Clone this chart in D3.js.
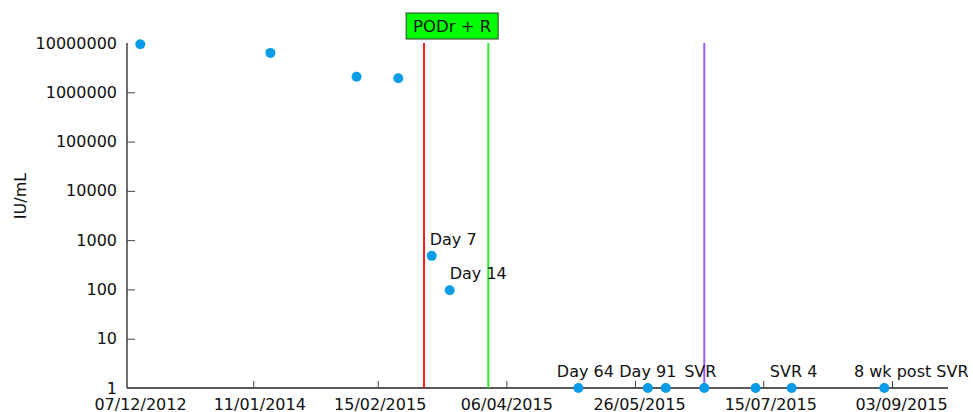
<!DOCTYPE html>
<html>
<head>
<meta charset="utf-8">
<script src="https://cdn.jsdelivr.net/npm/d3@7"></script>
<style>
  body { margin: 0; background: #fff; }
  text { font-family: "DejaVu Sans", Verdana, sans-serif; fill: #111; }
</style>
</head>
<body>
<div id="wrapper"></div>
<script>
// tick dates on the (broken) x axis
const tickDates = ["07/12/2012", "11/01/2014", "15/02/2015", "06/04/2015", "26/05/2015", "15/07/2015", "03/09/2015"];
const xEndDate = "25/09/2015";

// viral load measurements
const sampleDates = ["18/01/2013", "07/03/2014", "09/12/2014", "23/02/2015", "08/03/2015", "15/03/2015",
    "04/05/2015", "31/05/2015", "07/06/2015", "22/06/2015", "12/07/2015", "26/07/2015", "31/08/2015"];
const viralLoad = [9400000, 6300000, 2070000, 1920000, 480, 96, 1, 1, 1, 1, 1, 1, 1];

// point annotations
const annotationIndex = [4, 5, 6, 7, 9, 11, 12];
const annotationText = ["Day 7", "Day 14", "Day 64", "Day 91", "SVR", "SVR 4", "8 wk post SVR"];

// treatment markers
const markerDates = ["05/03/2015", "30/03/2015", "22/06/2015"];
const markerColors = ["#ff1a1a", "#2ee82e", "#9b5cf6"];
const treatmentLabel = "PODr + R";

const yTicks = [1, 10, 100, 1000, 10000, 100000, 1000000, 10000000];

class Dimensions {
    constructor(width, height, margin) {
        this.width = width;
        this.height = height;
        this.margin = margin;
        this.boundedWidth = this.width - this.margin.left - this.margin.right;
        this.boundedHeight = this.height - this.margin.top - this.margin.bottom;
    }
}

function translate(x, y) {
    return `translate(${x}, ${y})`;
}

async function drawChart() {
    const parseDate = d3.timeParse("%d/%m/%Y");

    const width = 973;
    const height = 412;
    const margin = { top: 43, right: 25, bottom: 24, left: 127 };
    const dimensions = new Dimensions(width, height, margin);

    const svg = d3.select("#wrapper")
        .append("svg")
        .attr("width", dimensions.width)
        .attr("height", dimensions.height);

    const bounds = svg.append("g")
        .attr("transform", translate(dimensions.margin.left, dimensions.margin.top));

    // piecewise time scale: each tick date pinned to its slot on the broken axis
    const tickOffsets = [0, 126.3, 250.7, 379.3, 508, 636.3, 765];
    const domainDates = tickDates.concat([xEndDate]).map(parseDate);
    const xScale = d3.scaleTime()
        .domain(domainDates)
        .range(tickOffsets.concat([dimensions.boundedWidth]));

    const yScale = d3.scaleLog()
        .domain([1, 10000000])
        .range([dimensions.boundedHeight, 0]);

    const dataset = sampleDates.map((d, i) => ({ date: parseDate(d), value: viralLoad[i] }));
    const xAccessor = d => d.date;
    const yAccessor = d => d.value;

    // y axis
    const yAxisGenerator = d3.axisRight(yScale)
        .tickValues(yTicks)
        .tickFormat(d3.format("d"))
        .tickSize(8);
    const yAxis = bounds.append("g").call(yAxisGenerator);
    yAxis.select(".domain").attr("stroke", "#222").attr("stroke-width", 1.3).attr("d", `M0,0V${dimensions.boundedHeight}`);
    yAxis.selectAll(".tick line").attr("stroke", "#444")
        .attr("display", d => (d === 1 || d === 10000000) ? "none" : null);
    yAxis.selectAll(".tick text")
        .attr("x", -10)
        .attr("text-anchor", "end")
        .attr("font-size", 16)
        .attr("font-family", null);

    // x axis
    const xAxisGenerator = d3.axisTop(xScale)
        .tickValues(tickDates.map(parseDate))
        .tickFormat(d3.timeFormat("%d/%m/%Y"))
        .tickSize(7);
    const xAxis = bounds.append("g")
        .attr("transform", translate(0, dimensions.boundedHeight))
        .call(xAxisGenerator);
    xAxis.select(".domain").attr("stroke", "#222").attr("stroke-width", 1.3).attr("d", `M0,0H${dimensions.boundedWidth}`);
    xAxis.selectAll(".tick line").attr("stroke", "#444")
        .attr("display", (d, i) => i === 0 ? "none" : null);
    xAxis.selectAll(".tick text")
        .attr("y", 22)
        .attr("dx", (d, i) => [13, 6, 2, 0, 4, 7, 9][i])
        .attr("font-size", 16)
        .attr("font-family", null);

    // y label
    svg.append("text")
        .attr("transform", `translate(26, 196) rotate(-90)`)
        .attr("text-anchor", "middle")
        .attr("font-size", 16)
        .text("IU/mL");

    // treatment lines
    bounds.selectAll(".marker")
        .data(markerDates)
        .join("line")
        .attr("x1", d => xScale(parseDate(d)))
        .attr("x2", d => xScale(parseDate(d)))
        .attr("y1", 0)
        .attr("y2", dimensions.boundedHeight)
        .attr("stroke", (d, i) => markerColors[i])
        .attr("stroke-width", 2);

    // treatment label box
    const boxCenter = (xScale(parseDate(markerDates[0])) + xScale(parseDate(markerDates[1]))) / 2 - 4;
    const labelGroup = bounds.append("g")
        .attr("transform", translate(boxCenter, -17));
    labelGroup.append("rect")
        .attr("x", -46)
        .attr("y", -13)
        .attr("width", 92)
        .attr("height", 26)
        .attr("fill", "#00ff00")
        .attr("stroke", "#333")
        .attr("stroke-width", 1);
    labelGroup.append("text")
        .attr("text-anchor", "middle")
        .attr("dy", "0.36em")
        .attr("font-size", 16.5)
        .text(treatmentLabel);

    // points
    bounds.selectAll(".point")
        .data(dataset)
        .join("circle")
        .attr("cx", d => xScale(xAccessor(d)))
        .attr("cy", d => yScale(yAccessor(d)))
        .attr("r", 5)
        .attr("fill", "#0a9ce6");

    // point annotations
    const labelNudge = [{ dx: -2, anchor: "start" }, { dx: 0, anchor: "start" }, { dx: 7, anchor: "middle" },
        { dx: 0, anchor: "middle" }, { dx: -4, anchor: "middle" }, { dx: 2, anchor: "middle" }, { dx: 27, anchor: "middle" }];
    bounds.selectAll(".annotation")
        .data(annotationIndex)
        .join("text")
        .attr("x", (d, i) => xScale(xAccessor(dataset[d])) + labelNudge[i].dx)
        .attr("y", d => yScale(yAccessor(dataset[d])) - 11)
        .attr("text-anchor", (d, i) => labelNudge[i].anchor)
        .attr("font-size", 16)
        .text((d, i) => annotationText[i]);
}

drawChart().then();
</script>
</body>
</html>
